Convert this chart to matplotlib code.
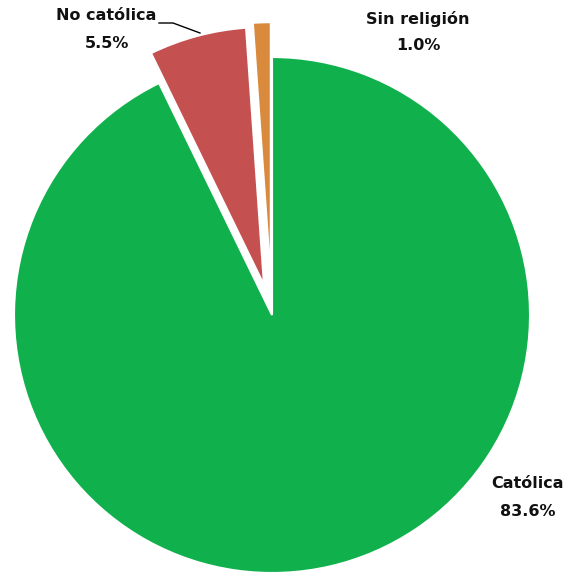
import numpy as np
import matplotlib.pyplot as plt

# religion shares (%), drawn counter-clockwise from the top
labels = ["Sin religión", "No católica", "Católica"]
values = [1.0, 5.5, 83.6]
colors = ["#D98A3D", "#C4504F", "#10B14C"]
explode = [0.135, 0.12, 0.0]

fig = plt.figure(figsize=(5.67, 5.73), dpi=100)
ax = fig.add_axes([0, 0, 1, 1])

wedges, _ = ax.pie(values, colors=colors, explode=explode, startangle=90,
                   counterclock=True, radius=1.0,
                   wedgeprops=dict(edgecolor="white", linewidth=1.5))

ax.set_xlim(-1.054, 1.143)
ax.set_ylim(-1.0, 1.221)
ax.set_aspect("equal")
ax.axis("off")

font = dict(fontsize=11.5, fontweight="bold", family="DejaVu Sans",
            ha="center", va="center", color="#111111")

# label text, positions in figure pixels
def px(x, y):
    return x / 567, 1 - y / 573

fig.text(*px(106, 16), labels[1], **font)
fig.text(*px(107, 44), f"{values[1]:.1f}%", **font)
fig.text(*px(418, 19), labels[0], **font)
fig.text(*px(418, 45), f"{values[0]:.1f}%", **font)
fig.text(*px(528, 484), labels[2], **font)
fig.text(*px(528, 511), f"{values[2]:.1f}%", **font)

# leader line for "No católica"
lx = [159, 173, 200]
ly = [23, 23, 33]
fig.add_artist(plt.Line2D([x / 567 for x in lx], [1 - y / 573 for y in ly],
                          color="black", linewidth=1))

fig.savefig("out.png", dpi=100)
